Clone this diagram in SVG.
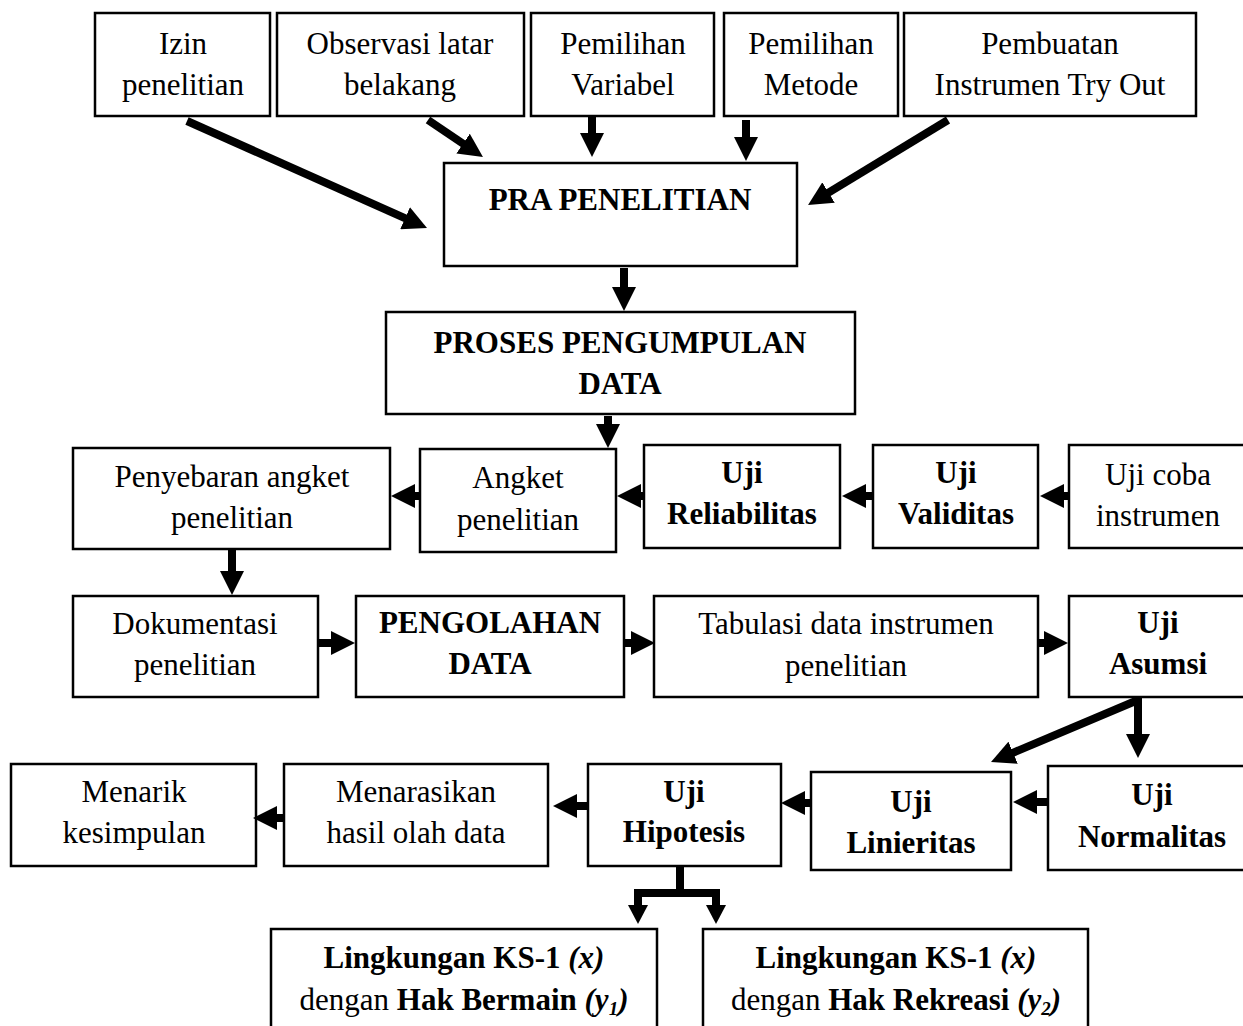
<svg xmlns="http://www.w3.org/2000/svg" width="1243" height="1026" viewBox="0 0 1243 1026">
<style>
.box{fill:#fff;stroke:#000;stroke-width:2.5}
.t{font-family:"Liberation Serif","Times New Roman",serif;font-size:31px;text-anchor:middle;fill:#000}
.b{font-weight:bold}
.i{font-style:italic}
.c{stroke:#000;stroke-width:8;fill:none;stroke-linecap:butt}
</style>
<defs>
<marker id="ah" markerUnits="userSpaceOnUse" markerWidth="24" markerHeight="24" viewBox="0 0 24 24" refX="1" refY="12" orient="auto"><path d="M0,0 L24,12 L0,24 z" fill="#000"/></marker>
<marker id="ahs" markerUnits="userSpaceOnUse" markerWidth="19" markerHeight="20" viewBox="0 0 19 20" refX="1" refY="10" orient="auto"><path d="M0,0 L19,10 L0,20 z" fill="#000"/></marker>
</defs>
<rect width="1243" height="1026" fill="#fff"/>
<g id="n-izin"><rect class="box" x="95" y="13" width="175" height="103"/><text class="t" x="183" y="54">Izin</text><text class="t" x="183" y="95">penelitian</text></g>
<g id="n-observasi"><rect class="box" x="277" y="13" width="247" height="103"/><text class="t" x="400" y="54">Observasi latar</text><text class="t" x="400" y="95">belakang</text></g>
<g id="n-variabel"><rect class="box" x="531" y="13" width="183" height="103"/><text class="t" x="623" y="54">Pemilihan</text><text class="t" x="623" y="95">Variabel</text></g>
<g id="n-metode"><rect class="box" x="724" y="13" width="174" height="103"/><text class="t" x="811" y="54">Pemilihan</text><text class="t" x="811" y="95">Metode</text></g>
<g id="n-pembuatan"><rect class="box" x="904" y="13" width="292" height="103"/><text class="t" x="1050" y="54">Pembuatan</text><text class="t" x="1050" y="95">Instrumen Try Out</text></g>
<g id="n-pra"><rect class="box" x="444" y="163" width="353" height="103"/><text class="t b" x="620" y="210">PRA PENELITIAN</text></g>
<g id="n-proses"><rect class="box" x="386" y="312" width="469" height="102"/><text class="t b" x="620" y="353">PROSES PENGUMPULAN</text><text class="t b" x="620" y="394">DATA</text></g>
<g id="n-penyebaran"><rect class="box" x="73" y="448" width="317" height="101"/><text class="t" x="232" y="487">Penyebaran angket</text><text class="t" x="232" y="528">penelitian</text></g>
<g id="n-angket"><rect class="box" x="420" y="449" width="196" height="103"/><text class="t" x="518" y="488">Angket</text><text class="t" x="518" y="530">penelitian</text></g>
<g id="n-reliabilitas"><rect class="box" x="644" y="445" width="196" height="103"/><text class="t b" x="742" y="483">Uji</text><text class="t b" x="742" y="524">Reliabilitas</text></g>
<g id="n-validitas"><rect class="box" x="873" y="445" width="165" height="103"/><text class="t b" x="956" y="483">Uji</text><text class="t b" x="956" y="524">Validitas</text></g>
<g id="n-ujicoba"><rect class="box" x="1069" y="445" width="190" height="103"/><text class="t" x="1158" y="485">Uji coba</text><text class="t" x="1158" y="526">instrumen</text></g>
<g id="n-dokumentasi"><rect class="box" x="73" y="596" width="245" height="101"/><text class="t" x="195" y="634">Dokumentasi</text><text class="t" x="195" y="675">penelitian</text></g>
<g id="n-pengolahan"><rect class="box" x="356" y="596" width="268" height="101"/><text class="t b" x="490" y="633">PENGOLAHAN</text><text class="t b" x="490" y="674">DATA</text></g>
<g id="n-tabulasi"><rect class="box" x="654" y="596" width="384" height="101"/><text class="t" x="846" y="634">Tabulasi data instrumen</text><text class="t" x="846" y="676">penelitian</text></g>
<g id="n-asumsi"><rect class="box" x="1069" y="596" width="190" height="101"/><text class="t b" x="1158" y="633">Uji</text><text class="t b" x="1158" y="674">Asumsi</text></g>
<g id="n-menarik"><rect class="box" x="11" y="764" width="245" height="102"/><text class="t" x="134" y="802">Menarik</text><text class="t" x="134" y="843">kesimpulan</text></g>
<g id="n-menarasikan"><rect class="box" x="284" y="764" width="264" height="102"/><text class="t" x="416" y="802">Menarasikan</text><text class="t" x="416" y="843">hasil olah data</text></g>
<g id="n-hipotesis"><rect class="box" x="588" y="764" width="193" height="102"/><text class="t b" x="684" y="802">Uji</text><text class="t b" x="684" y="842">Hipotesis</text></g>
<g id="n-linieritas"><rect class="box" x="811" y="772" width="200" height="98"/><text class="t b" x="911" y="812">Uji</text><text class="t b" x="911" y="853">Linieritas</text></g>
<g id="n-normalitas"><rect class="box" x="1048" y="766" width="210" height="104"/><text class="t b" x="1152" y="805">Uji</text><text class="t b" x="1152" y="847">Normalitas</text></g>
<g id="n-bermain"><rect class="box" x="271" y="929" width="386" height="110"/><text class="t" x="464" y="968"><tspan class="b">Lingkungan KS-1 </tspan><tspan class="b i">(x)</tspan></text><text class="t" x="464" y="1010">dengan <tspan class="b">Hak Bermain </tspan><tspan class="b i">(y</tspan><tspan class="b i" font-size="19" dy="5">1</tspan><tspan class="b i" dy="-5">)</tspan></text></g>
<g id="n-rekreasi"><rect class="box" x="703" y="929" width="385" height="110"/><text class="t" x="896" y="968"><tspan class="b">Lingkungan KS-1 </tspan><tspan class="b i">(x)</tspan></text><text class="t" x="896" y="1010">dengan <tspan class="b">Hak Rekreasi </tspan><tspan class="b i">(y</tspan><tspan class="b i" font-size="19" dy="5">2</tspan><tspan class="b i" dy="-5">)</tspan></text></g>
<g id="connectors">
<line class="c" x1="187" y1="121" x2="406" y2="218.6" marker-end="url(#ah)"/>
<line class="c" x1="428" y1="120" x2="463.9" y2="144.2" marker-end="url(#ah)"/>
<line class="c" x1="592" y1="117" x2="592" y2="134" marker-end="url(#ah)"/>
<line class="c" x1="746" y1="120" x2="746" y2="138" marker-end="url(#ah)"/>
<line class="c" x1="948" y1="120" x2="827.7" y2="193.1" marker-end="url(#ah)"/>
<line class="c" x1="624" y1="268" x2="624" y2="288" marker-end="url(#ah)"/>
<line class="c" x1="608" y1="416" x2="608" y2="425" marker-end="url(#ah)"/>
<line class="c" x1="419" y1="496" x2="414" y2="496" marker-end="url(#ah)"/>
<line class="c" x1="643" y1="496" x2="640" y2="496" marker-end="url(#ah)"/>
<line class="c" x1="873" y1="496" x2="865" y2="496" marker-end="url(#ah)"/>
<line class="c" x1="1068" y1="496" x2="1063" y2="496" marker-end="url(#ah)"/>
<line class="c" x1="232" y1="550" x2="232" y2="572" marker-end="url(#ah)"/>
<line class="c" x1="318" y1="643" x2="332" y2="643" marker-end="url(#ah)"/>
<line class="c" x1="624" y1="643" x2="632" y2="643" marker-end="url(#ah)"/>
<line class="c" x1="1038" y1="643" x2="1045" y2="643" marker-end="url(#ah)"/>
<line class="c" x1="1138" y1="698" x2="1138" y2="735" marker-end="url(#ah)"/>
<line class="c" x1="1138" y1="700" x2="1012.2" y2="753.1" marker-end="url(#ah)"/>
<line class="c" x1="1047" y1="802" x2="1036" y2="802" marker-end="url(#ah)"/>
<line class="c" x1="810" y1="803" x2="804" y2="803" marker-end="url(#ah)"/>
<line class="c" x1="587" y1="806" x2="576" y2="806" marker-end="url(#ah)"/>
<line class="c" x1="283" y1="818" x2="276" y2="818" marker-end="url(#ah)"/>
<path class="c" d="M680,866 V893 M634,893 H720"/>
<line class="c" x1="638" y1="893" x2="638" y2="906" marker-end="url(#ahs)"/>
<line class="c" x1="716" y1="893" x2="716" y2="906" marker-end="url(#ahs)"/>
</g>
</svg>
